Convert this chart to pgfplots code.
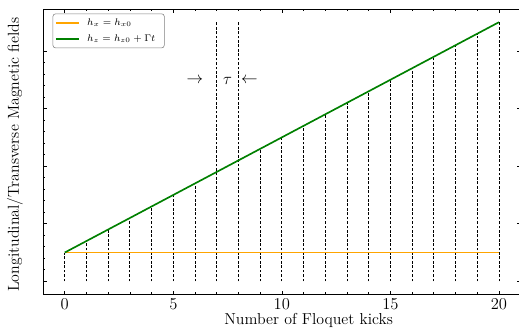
\documentclass[border=0pt]{standalone}
\usepackage{pgfplots}
\pgfplotsset{compat=1.18}
\definecolor{mplorange}{HTML}{FFA500}
\definecolor{mplgreen}{HTML}{008000}
\begin{document}
\begin{tikzpicture}
\begin{axis}[
  scale only axis, width=346pt, height=206.5pt,
  xmin=-1, xmax=21, ymin=-0.225, ymax=4.725,
  xtick={0,5,10,15,20}, minor x tick num=4,
  ytick={0,1,2,3,4}, minor y tick num=4, yticklabels={},
  tick align=inside, major tick length=2.5pt, minor tick length=1.3pt,
  tick style={black, line width=0.5pt},
  axis line style={line width=0.6pt},
  tick label style={font=\fontsize{11.5}{13}\selectfont},
  label style={font=\fontsize{11.5}{13}\selectfont},
  xlabel={Number of Floquet kicks},
  ylabel={Longitudinal/Transverse Magnetic fields},
  xlabel style={at={(axis description cs:0.556,-0.091)}, anchor=center},
  ylabel style={at={(axis description cs:-0.0587,0.49)}, anchor=center},
  legend style={at={(axis description cs:0.02,0.985)}, anchor=north west,
    draw=gray, rounded corners=2pt, font=\fontsize{7.5}{9}\selectfont, row sep=1pt,
    inner sep=1.5pt,
    nodes={inner xsep=5pt}},
  legend cell align=left,
]
\addlegendimage{mplorange, line width=1.2pt}
\addlegendimage{mplgreen, line width=1.2pt}
\addplot[ycomb, black, line width=0.6pt, dash pattern=on 2pt off 1.2pt, mark=none, forget plot] coordinates {
(0,0.5)(1,0.7)(2,0.9)(3,1.1)(4,1.3)(5,1.5)(6,1.7)(7,4.5)(8,4.5)(9,2.3)(10,2.5)
(11,2.7)(12,2.9)(13,3.1)(14,3.3)(15,3.5)(16,3.7)(17,3.9)(18,4.1)(19,4.3)(20,4.5)};
\addplot[mplorange, line width=1.2pt, mark=none, forget plot] coordinates {(0,0.5)(20,0.5)};
\addplot[mplgreen, line width=1.2pt, mark=none, forget plot] coordinates {(0,0.5)(20,4.5)};
\legend{$h_x = h_{x0}$, $h_z = h_{z0} + \Gamma t$}
\node[font=\fontsize{11.5}{13}\selectfont] at (axis cs:6,3.48) {$\rightarrow$};
\node[font=\fontsize{11.5}{13}\selectfont] at (axis cs:7.5,3.48) {$\tau$};
\node[font=\fontsize{11.5}{13}\selectfont] at (axis cs:8.5,3.48) {$\leftarrow$};
\end{axis}
\pgfresetboundingbox
\path[use as bounding box] ([xshift=-31.2pt,yshift=-26.8pt]current axis.south west) rectangle ++(376pt,240pt);
\end{tikzpicture}
\end{document}
